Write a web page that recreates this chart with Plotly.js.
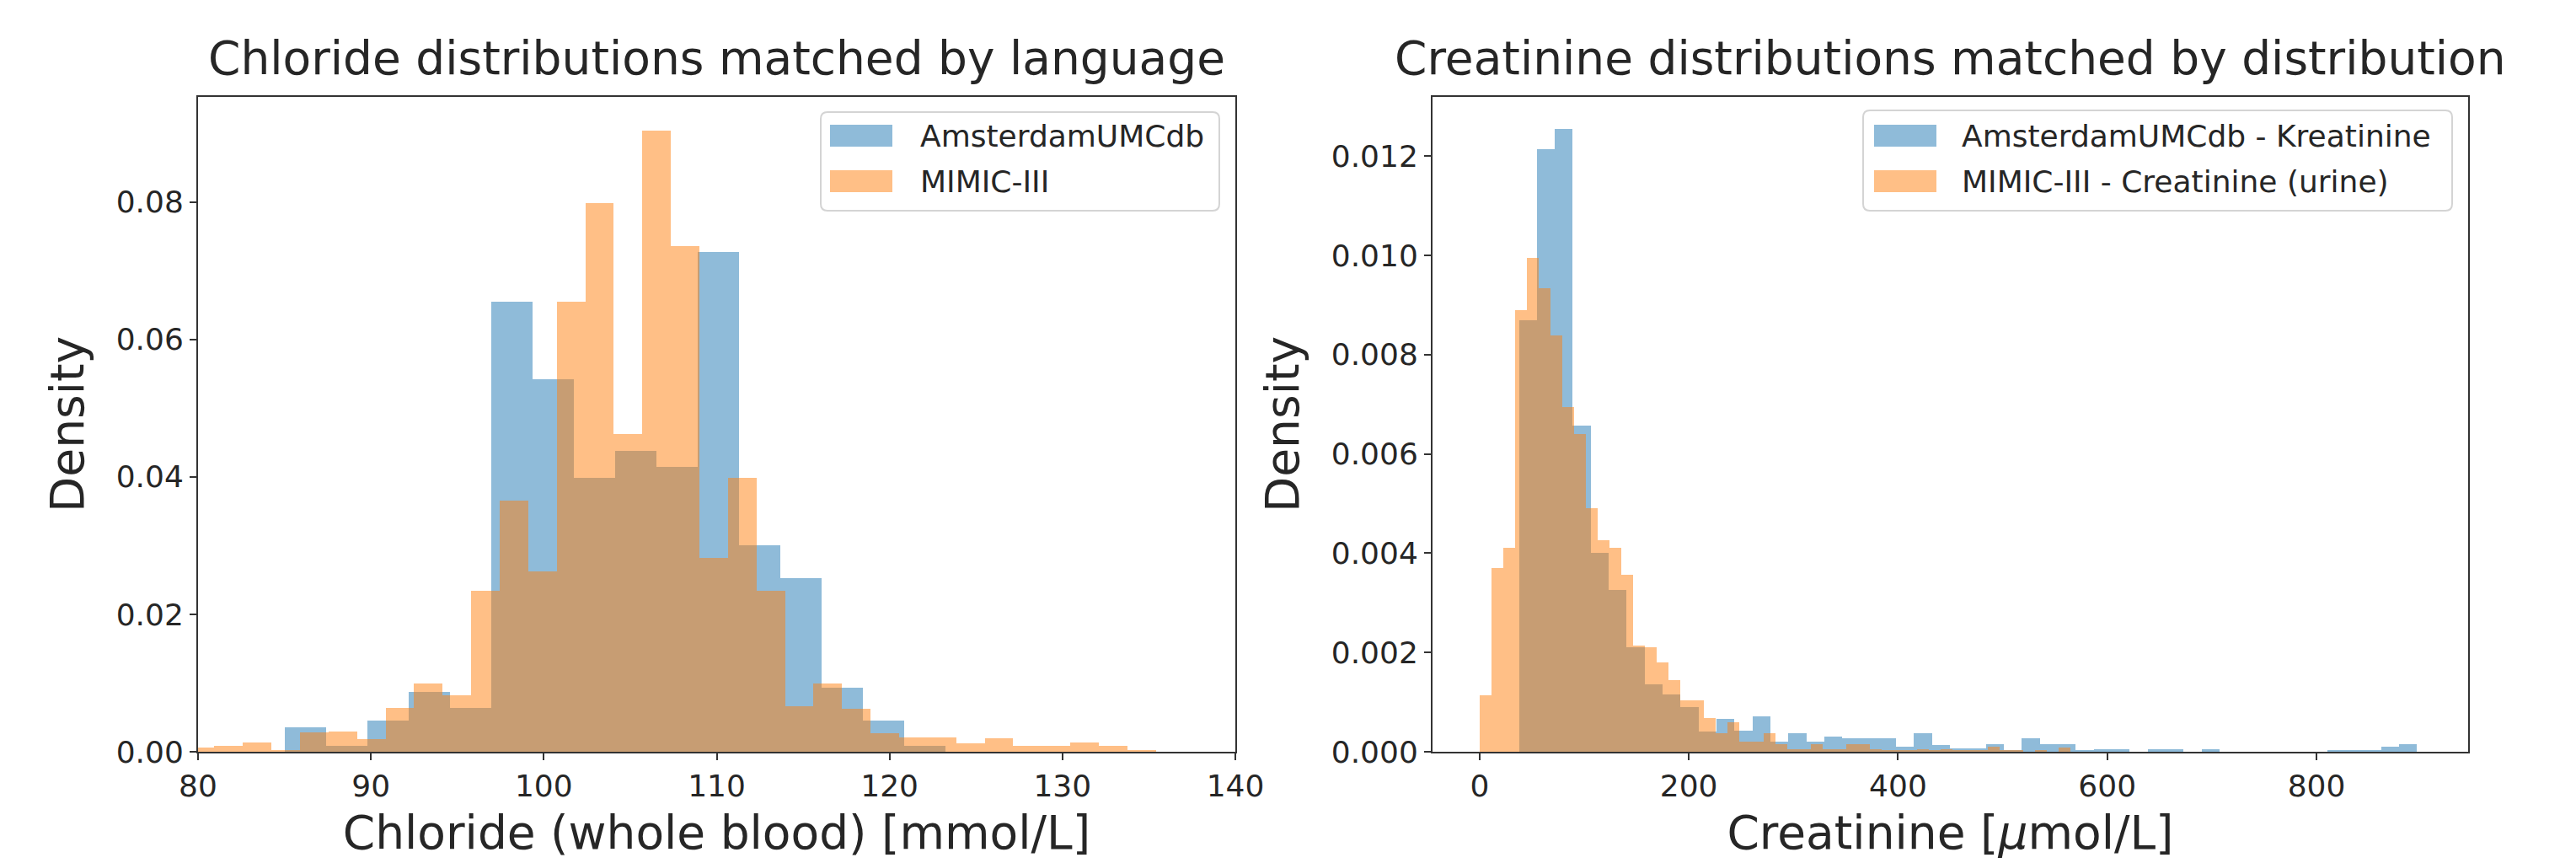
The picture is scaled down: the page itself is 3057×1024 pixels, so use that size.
<!DOCTYPE html>
<html>
<head>
<meta charset="utf-8">
<script src="https://cdn.plot.ly/plotly-3.0.1.min.js"></script>
<style>
html,body{margin:0;padding:0;background:#ffffff;}
#chart{width:3057px;height:1024px;}
</style>
</head>
<body>
<div id="chart"></div>
<script>
// ---------------- DATA ----------------
// Left panel: Chloride (whole blood) [mmol/L], density histograms
const chlorideSeriesNames = ["AmsterdamUMCdb", "MIMIC-III"];
const chlorideAmsBinStart = 85.02;   // first bin edge
const chlorideAmsBinWidth = 2.387;   // bin width
const chlorideAmsDensity = [0.0036, 0.0008, 0.0045, 0.0087, 0.0064, 0.0655, 0.0542, 0.0399,
  0.0438, 0.0414, 0.0727, 0.0300, 0.0253, 0.0093, 0.0046, 0.0008];
const chlorideMimicBinStart = 79.3;
const chlorideMimicBinWidth = 1.65;
const chlorideMimicDensity = [0.0006, 0.0008, 0.0013, 0.0003, 0.0028, 0.0030, 0.0018, 0.0064,
  0.0099, 0.0082, 0.0234, 0.0365, 0.0262, 0.0655, 0.0799, 0.0462, 0.0904, 0.0736, 0.0282,
  0.0399, 0.0234, 0.0066, 0.0099, 0.0063, 0.0027, 0.0021, 0.0021, 0.0012, 0.0020, 0.0009,
  0.0009, 0.0013, 0.0009, 0.0002];
const chlorideXTicks = [80, 90, 100, 110, 120, 130, 140];
const chlorideYTicks = [0, 0.02, 0.04, 0.06, 0.08];

// Right panel: Creatinine [umol/L], density histograms
const creatinineSeriesNames = ["AmsterdamUMCdb - Kreatinine", "MIMIC-III - Creatinine (urine)"];
const creatinineAmsBinStart = 37.6;
const creatinineAmsBinWidth = 17.17;
const creatinineAmsDensity = [0.0087, 0.01214, 0.01254, 0.00657, 0.0040, 0.00326, 0.0021, 0.00136,
  0.00115, 0.0009, 0.0004, 0.00066, 0.00043, 0.00071, 0.0002, 0.00037, 0.0002, 0.00031, 0.00028,
  0.00028, 0.00028, 0.0001, 0.00037, 0.00013, 0.00006, 0.00006, 0.00015, 0.00003, 0.00028, 0.00015,
  0.00015, 0.00003, 0.00005, 0.00005, 0, 0.00005, 0.00005, 0, 0.00005, 0, 0, 0, 0, 0, 0,
  0.00004, 0.00004, 0.00004, 0.0001, 0.00015];
const creatinineMimicBinStart = 0;
const creatinineMimicBinWidth = 11.3;
const creatinineMimicDensity = [0.00114, 0.0037, 0.0041, 0.0089, 0.00994, 0.00934, 0.00838, 0.00695,
  0.0064, 0.0049, 0.00426, 0.0041, 0.00357, 0.00214, 0.0021, 0.0018, 0.00145, 0.00104, 0.00104,
  0.00068, 0.00037, 0.0006, 0.0002, 0.0002, 0.00037, 0.00015, 0.00005, 0.00005, 0.00015, 0.00005,
  0.00005, 0.00015, 0.00015, 0.00005, 0.00003, 0.00003, 0.00003, 0.00005, 0.00003, 0.00005,
  0.00003, 0.00003, 0.00003, 0.0001, 0.00003, 0.00003, 0, 0.00003, 0, 0.00008];
const creatinineXTicks = [0, 200, 400, 600, 800];
const creatinineYTicks = [0, 0.002, 0.004, 0.006, 0.008, 0.010, 0.012];

const panelTitles = ["Chloride distributions matched by language",
                     "Creatinine distributions matched by distribution"];
const xTitles = ["Chloride (whole blood) [mmol/L]", "Creatinine [<i>μ</i>mol/L]"];
const yTitle = "Density";

// ---------------- STYLE ----------------
const W = 3057, H = 1024;
const BLUE = "rgba(31,119,180,0.5)";
const ORANGE = "rgba(255,127,14,0.5)";
const BLUE_PATCH = "#8fbbd9";
const ORANGE_PATCH = "#ffbf86";
const FONT = "DejaVu Sans, Liberation Sans, sans-serif";
const TXT = "#262626";
const AX = "#333333";

function px(x) { return x / W; }
function py(y) { return 1 - y / H; }

function binCenters(start, width, n) {
  const c = [];
  for (let i = 0; i < n; i++) c.push(start + width * (i + 0.5));
  return c;
}
function widths(width, n) { return new Array(n).fill(width); }

function histTrace(start, width, dens, color, name, xa, ya) {
  return {
    type: "bar", name: name, x: binCenters(start, width, dens.length), y: dens,
    width: widths(width, dens.length), xaxis: xa, yaxis: ya,
    marker: {color: color, line: {width: 0}}, showlegend: false,
    hoverinfo: "x+y"
  };
}

const data = [
  histTrace(chlorideAmsBinStart, chlorideAmsBinWidth, chlorideAmsDensity, BLUE, chlorideSeriesNames[0], "x", "y"),
  histTrace(chlorideMimicBinStart, chlorideMimicBinWidth, chlorideMimicDensity, ORANGE, chlorideSeriesNames[1], "x", "y"),
  histTrace(creatinineAmsBinStart, creatinineAmsBinWidth, creatinineAmsDensity, BLUE, creatinineSeriesNames[0], "x2", "y2"),
  histTrace(creatinineMimicBinStart, creatinineMimicBinWidth, creatinineMimicDensity, ORANGE, creatinineSeriesNames[1], "x2", "y2")
];

const yDomain = [py(892), py(115)];
const xDomain1 = [px(235), px(1466)];
const xDomain2 = [px(1700), px(2929)];

function xAxis(domain, range, ticks, title, anchor) {
  return {
    domain: domain, range: range, anchor: anchor, tickmode: "array", tickvals: ticks,
    ticks: "outside", ticklen: 8, tickwidth: 2, tickcolor: AX,
    showline: true, mirror: true, linecolor: AX, linewidth: 2,
    showgrid: false, zeroline: false, automargin: false,
    tickfont: {family: FONT, size: 36, color: TXT},
    title: {text: title, font: {family: FONT, size: 55, color: TXT}, standoff: 16}
  };
}
function yAxis(range, ticks, fmt, anchor) {
  return {
    domain: yDomain, range: range, anchor: anchor, tickmode: "array", tickvals: ticks,
    tickformat: fmt, ticks: "outside", ticklen: 8, tickwidth: 2, tickcolor: AX,
    showline: true, mirror: true, linecolor: AX, linewidth: 2,
    showgrid: false, zeroline: false, automargin: false,
    tickfont: {family: FONT, size: 36, color: TXT},
    title: {text: yTitle, font: {family: FONT, size: 55, color: TXT}, standoff: 20}
  };
}

// Legend drawn as matplotlib-style boxes (rounded frame, wide colour patches)
function roundedRectPath(x0, x1, y0, y1, r) {
  const rx = r / W, ry = r / H;
  const L = px(x0), R = px(x1), T = py(y0), B = py(y1);
  return `M${L + rx},${T} L${R - rx},${T} Q${R},${T} ${R},${T - ry} L${R},${B + ry} Q${R},${B} ${R - rx},${B} ` +
         `L${L + rx},${B} Q${L},${B} ${L},${B + ry} L${L},${T - ry} Q${L},${T} ${L + rx},${T} Z`;
}
function legendShapes(x0, x1, y0, y1, px0, px1, rows) {
  const s = [{type: "path", xref: "paper", yref: "paper", path: roundedRectPath(x0, x1, y0, y1, 8),
    line: {color: "#d4d4d4", width: 2}, fillcolor: "rgba(255,255,255,0.8)", layer: "above"}];
  rows.forEach(r => s.push({type: "rect", xref: "paper", yref: "paper", x0: px(px0), x1: px(px1),
    y0: py(r.cy + 13), y1: py(r.cy - 13), line: {width: 0}, fillcolor: r.color, layer: "above"}));
  return s;
}
function legendTexts(tx, rows) {
  return rows.map(r => ({xref: "paper", yref: "paper", x: px(tx), y: py(r.cy), xanchor: "left",
    yanchor: "middle", showarrow: false, text: r.text, font: {family: FONT, size: 36, color: TXT}}));
}

const legRowsL = [{cy: 161, color: BLUE_PATCH, text: chlorideSeriesNames[0]},
                  {cy: 215, color: ORANGE_PATCH, text: chlorideSeriesNames[1]}];
const legRowsR = [{cy: 161, color: BLUE_PATCH, text: creatinineSeriesNames[0]},
                  {cy: 215, color: ORANGE_PATCH, text: creatinineSeriesNames[1]}];

const shapes = [].concat(
  legendShapes(974, 1447, 133, 250, 985, 1059, legRowsL),
  legendShapes(2211, 2910, 131, 250, 2224, 2298, legRowsR)
);

const annotations = [].concat(
  [{xref: "paper", yref: "paper", x: (xDomain1[0] + xDomain1[1]) / 2, y: py(103), xanchor: "center",
    yanchor: "bottom", showarrow: false, text: panelTitles[0], font: {family: FONT, size: 55, color: TXT}},
   {xref: "paper", yref: "paper", x: (xDomain2[0] + xDomain2[1]) / 2, y: py(103), xanchor: "center",
    yanchor: "bottom", showarrow: false, text: panelTitles[1], font: {family: FONT, size: 55, color: TXT}}],
  legendTexts(1090, legRowsL),
  legendTexts(2326, legRowsR)
);

const layout = {
  width: W, height: H, margin: {l: 0, r: 0, t: 0, b: 0, pad: 0},
  paper_bgcolor: "#ffffff", plot_bgcolor: "#ffffff",
  font: {family: FONT, color: TXT},
  barmode: "overlay", bargap: 0, showlegend: false,
  xaxis: xAxis(xDomain1, [80, 140], chlorideXTicks, xTitles[0], "y"),
  yaxis: yAxis([0, 0.0953], chlorideYTicks, ".2f", "x"),
  xaxis2: xAxis(xDomain2, [-45, 945], creatinineXTicks, xTitles[1], "y2"),
  yaxis2: yAxis([0, 0.01319], creatinineYTicks, ".3f", "x2"),
  shapes: shapes, annotations: annotations
};

Plotly.newPlot("chart", data, layout, {staticPlot: true, displayModeBar: false});
</script>
</body>
</html>
